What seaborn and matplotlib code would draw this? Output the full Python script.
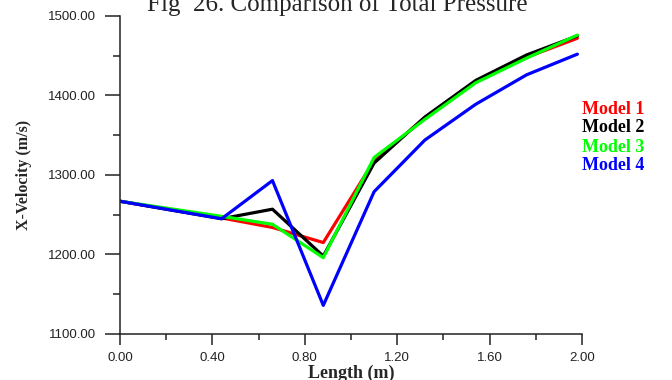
import numpy as np
import pandas as pd
import matplotlib
matplotlib.use("Agg")
import matplotlib.pyplot as plt
import seaborn as sns
from matplotlib.ticker import MultipleLocator, FormatStrFormatter

# ---- data ----
length_m = [0.00, 0.44, 0.66, 0.88, 1.10, 1.32, 1.54, 1.76, 1.98]
model_1 = [1267, 1246, 1234, 1215, 1318, 1372, 1418, 1448, 1472]
model_2 = [1267, 1245, 1257, 1198, 1315, 1373, 1419, 1451, 1475]
model_3 = [1267, 1248, 1238, 1196, 1322, 1370, 1416, 1447, 1476]
model_4 = [1267, 1245, 1293, 1136, 1279, 1344, 1389, 1426, 1452]
model_names = ["Model 1", "Model 2", "Model 3", "Model 4"]
model_colors = ["#ff0000", "#000000", "#00ff00", "#0000ff"]
title_text = "Fig  26. Comparison of Total Pressure"
x_label = "Length (m)"
y_label = "X-Velocity (m/s)"

frames = []
for name, vals in zip(model_names, [model_1, model_2, model_3, model_4]):
    frames.append(pd.DataFrame({"Length": length_m, "Velocity": vals, "Model": name}))
df = pd.concat(frames, ignore_index=True)

sns.set_style("ticks")
plt.rcParams["font.family"] = ["Liberation Sans", "DejaVu Sans"]

fig = plt.figure(figsize=(6.72, 3.80), dpi=100)
ax = fig.add_axes([120 / 672, 1 - 334 / 380, (582 - 120) / 672, (334 - 16) / 380])

sns.lineplot(data=df, x="Length", y="Velocity", hue="Model", hue_order=model_names,
             palette=dict(zip(model_names, model_colors)), linewidth=2.3,
             legend=False, sort=False, ax=ax)

ax.set_xlim(0, 2.0)
ax.set_ylim(1100, 1500)
ax.xaxis.set_major_locator(MultipleLocator(0.4))
ax.xaxis.set_minor_locator(MultipleLocator(0.2))
ax.yaxis.set_major_locator(MultipleLocator(100))
ax.yaxis.set_minor_locator(MultipleLocator(50))
ax.xaxis.set_major_formatter(FormatStrFormatter("%.2f"))
ax.yaxis.set_major_formatter(FormatStrFormatter("%.2f"))

sns.despine(ax=ax)
for s in ["left", "bottom"]:
    ax.spines[s].set_linewidth(1.1)
    ax.spines[s].set_color("#222222")

ax.tick_params(axis="x", which="major", length=8, width=1.1, pad=5, labelsize=9.5, colors="#222222")
ax.tick_params(axis="x", which="minor", length=4, width=1.1, colors="#222222")
ax.tick_params(axis="y", which="major", length=11, width=1.1, pad=6, labelsize=9.5, colors="#222222")
ax.tick_params(axis="y", which="minor", length=5, width=1.1, colors="#222222")

serif = ["Liberation Serif", "DejaVu Serif"]
ax.set_xlabel(x_label, fontfamily=serif, fontweight="bold", fontsize=13)
ax.set_ylabel(y_label, fontfamily=serif, fontweight="bold", fontsize=11.5)
ax.xaxis.set_label_coords(0.5, -0.098)
ax.yaxis.set_label_coords(-0.19, 0.5)

fig.text(337 / 672, 1 - 11 / 380, title_text, ha="center", va="baseline",
         fontfamily=serif, fontsize=18)

legend_y = [110, 128, 147, 165]
for name, color, py in zip(model_names, model_colors, legend_y):
    fig.text(582 / 672, 1 - py / 380, name, ha="left", va="center",
             fontfamily=serif, fontweight="bold", fontsize=13, color=color)

fig.savefig("out.png", dpi=100)
